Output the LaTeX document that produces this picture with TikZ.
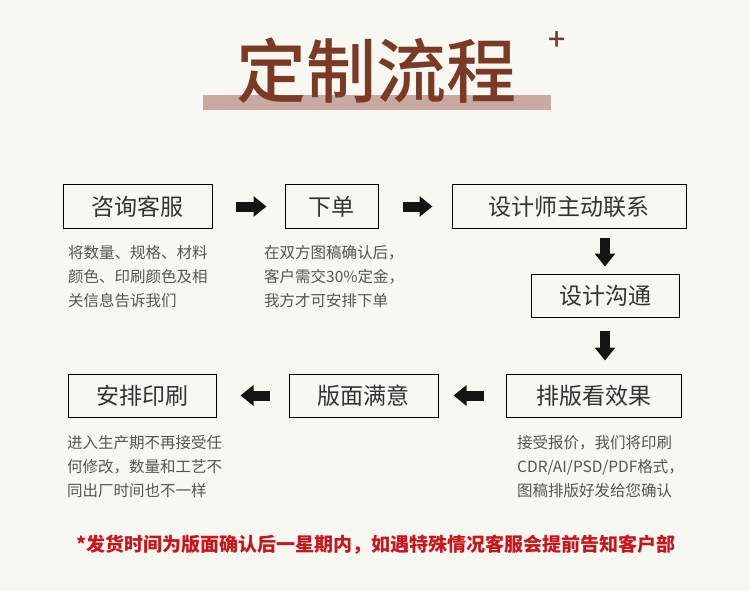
\documentclass[tikz,border=0pt]{standalone}
\usepackage{fontspec}
\setmainfont{Noto Sans CJK SC}
\newfontfamily\titlefont{Noto Sans CJK SC Medium}
\usepackage{tikz}
\usetikzlibrary{arrows.meta,positioning}

\definecolor{paper}{HTML}{F8F8F3}
\definecolor{titlebrown}{HTML}{7A3A24}
\definecolor{barpink}{HTML}{C9A9A1}
\definecolor{noticered}{HTML}{C8161D}
\definecolor{boxtext}{HTML}{333333}
\definecolor{desctext}{HTML}{555555}

\begin{document}
\begin{tikzpicture}[
    x=1pt, y=-1pt,
    box/.style={draw=black, line width=1pt, minimum height=43pt, inner sep=0pt, text=boxtext, font=\fontsize{23}{23}\selectfont},
    desc/.style={anchor=north west, align=left, inner sep=0pt, text=desctext, font=\fontsize{15.5}{24}\selectfont},
    blockarrow/.style={line width=10pt, draw=black!92, -{Triangle[length=13pt,width=20pt]}}
]
\fill[paper] (0,0) rectangle (750,591);
\useasboundingbox (0,0) rectangle (750,591);

% title
\fill[barpink] (203,95) rectangle (551,110);
\node[text=titlebrown, font=\fontsize{70}{70}\titlefont] (title) at (376,71) {定制流程};
\node[text=titlebrown, font=\fontsize{30}{30}\titlefont] (plus) at (557.5,41.5) {+};

% steps
\node[box, minimum width=149pt] (consult) at (137.5,206.5) {咨询客服};
\node[box, minimum width=93pt] (order) at (331.5,206.5) {下单};
\node[box, minimum width=234pt] (contact) at (569,206.5) {设计师主动联系};
\node[box, minimum width=148pt] (talk) at (605,295.5) {设计沟通};
\node[box, minimum width=175pt] (layout) at (593.5,395.5) {排版看效果};
\node[box, minimum width=149pt] (approve) at (363.5,395.5) {版面满意};
\node[box, minimum width=148pt] (print) at (142,395.5) {安排印刷};

% notes under the steps
\node[desc] (consultnote) at (68,245) {将数量、规格、材料\\颜色、印刷颜色及相\\关信息告诉我们};
\node[desc] (ordernote) at (264,245) {在双方图稿确认后，\\客户需交30\%定金，\\我方才可安排下单};
\node[desc] (layoutnote) at (517,435) {接受报价，我们将印刷\\CDR/AI/PSD/PDF格式，\\图稿排版好发给您确认};
\node[desc] (printnote) at (67,435) {进入生产期不再接受任\\何修改，数量和工艺不\\同出厂时间也不一样};

% arrows
\draw[blockarrow, shorten <=23pt, shorten >=18pt] (consult.east) -- (order.west);
\draw[blockarrow, shorten <=24pt, shorten >=19pt] (order.east) -- (contact.west);
\draw[blockarrow, shorten <=9pt, shorten >=7pt] (contact.south -| talk.north) -- (talk.north);
\draw[blockarrow, shorten <=13pt, shorten >=13pt] (talk.south) -- (talk.south |- layout.north);
\draw[blockarrow, shorten <=22pt, shorten >=15pt] (layout.west) -- (approve.east);
\draw[blockarrow, shorten <=19pt, shorten >=24pt] (approve.west) -- (print.east);

% delivery notice
\node[text=noticered, font=\fontsize{19}{19}\selectfont\bfseries] (notice) at (376,545) {*发货时间为版面确认后一星期内，如遇特殊情况客服会提前告知客户部};
\end{tikzpicture}
\end{document}
